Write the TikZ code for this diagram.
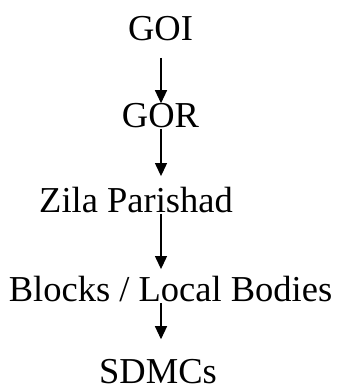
\documentclass[tikz,border=0pt]{standalone}
\usepackage{fontspec}
\setmainfont{Liberation Serif}
\usetikzlibrary{arrows.meta}

\begin{document}
\begin{tikzpicture}[x=1pt, y=1pt,
    every node/.style={inner sep=0pt, anchor=base, font=\fontsize{36.5}{40}\selectfont},
    every path/.style={line width=1.2pt},
    down/.style={-{Triangle[length=13pt, width=12pt]}}]

    \useasboundingbox (0,0) rectangle (340,387);

    \coordinate (axis) at (161,0);

    \node (GOI) at (160.5,346) {GOI};

    \node (GOR) at (160.5,259) {GOR};

    \node (ZP) at (136,174) {Zila Parishad};

    \node (BLB) at (170.5,85) {Blocks / Local Bodies};

    \node (SDMC) at (158,4) {SDMCs};


    \draw[down, shorten <=16pt] (GOI.south -| axis) -- (GOR.north -| axis);

    \draw[down, shorten >=11pt] (GOR.south -| axis) -- (ZP.north -| axis);

    \draw[down, shorten >=7pt] (ZP.south -| axis) -- (BLB.north -| axis);

    \draw[down, shorten >=19pt] (BLB.south -| axis) -- (SDMC.north -| axis);

\end{tikzpicture}
\end{document}
